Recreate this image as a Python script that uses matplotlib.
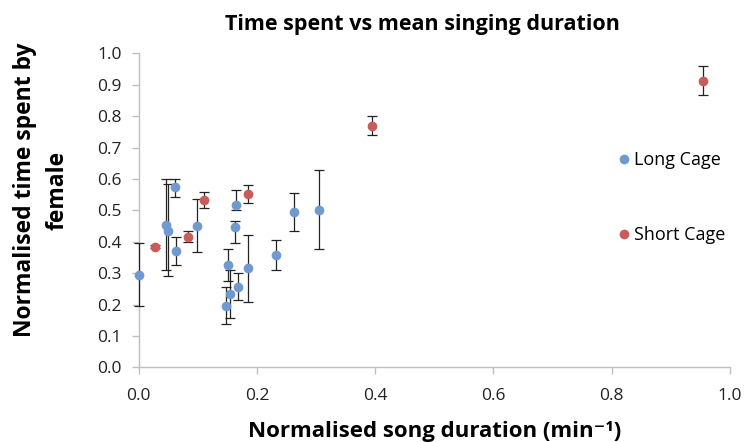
import numpy as np
import matplotlib
matplotlib.use('Agg')
import matplotlib.pyplot as plt
from matplotlib.lines import Line2D

# Long cage: song duration, time spent, error bar ends
long_x = [0.000, 0.047, 0.050, 0.062, 0.064, 0.099, 0.164, 0.163, 0.152, 0.155,
          0.147, 0.168, 0.185, 0.232, 0.262, 0.305]
long_y = [0.294, 0.455, 0.434, 0.573, 0.370, 0.451, 0.517, 0.448, 0.326, 0.232,
          0.196, 0.257, 0.315, 0.357, 0.494, 0.501]
long_hi = [0.397, 0.599, 0.584, 0.601, 0.416, 0.535, 0.566, 0.467, 0.378, 0.310,
           0.257, 0.301, 0.421, 0.405, 0.557, 0.628]
long_lo = [0.195, 0.310, 0.291, 0.543, 0.325, 0.369, 0.501, 0.395, 0.274, 0.157,
           0.137, 0.216, 0.207, 0.309, 0.434, 0.376]

# Short cage
short_x = [0.027, 0.084, 0.111, 0.185, 0.394, 0.955]
short_y = [0.384, 0.414, 0.533, 0.552, 0.769, 0.913]
short_hi = [0.389, 0.433, 0.559, 0.580, 0.801, 0.960]
short_lo = [0.380, 0.398, 0.508, 0.525, 0.739, 0.869]

blue = '#7099cf'
red = '#c95b59'
axis_grey = '#bfbfbf'

plt.rcParams['font.family'] = ['Open Sans', 'DejaVu Sans']


def main():
    fig = plt.figure(figsize=(7.45, 4.42), dpi=100)
    ax = fig.add_axes([0.186, 0.169, 0.794, 0.710])

    for xs, ys, hi, lo, col in [(long_x, long_y, long_hi, long_lo, blue),
                                (short_x, short_y, short_hi, short_lo, red)]:
        ys = np.array(ys)
        yerr = [ys - np.array(lo), np.array(hi) - ys]
        eb = ax.errorbar(xs, ys, yerr=yerr, fmt='none', ecolor='#222222',
                         elinewidth=0.9, capsize=3.5, capthick=0.9, zorder=2)
        for art in eb.lines[1] + eb.lines[2]:
            art.set_clip_on(False)
        ax.plot(xs, ys, 'o', color=col, markersize=7, markeredgewidth=0,
                zorder=3, clip_on=False)

    ax.set_xlim(0, 1.0)
    ax.set_ylim(0, 1.0)
    ax.set_xticks(np.arange(0, 1.01, 0.2))
    ax.set_yticks(np.arange(0, 1.01, 0.1))
    ax.xaxis.set_major_formatter(matplotlib.ticker.FormatStrFormatter('%.1f'))
    ax.yaxis.set_major_formatter(matplotlib.ticker.FormatStrFormatter('%.1f'))
    for s in ['top', 'right']:
        ax.spines[s].set_visible(False)
    for s in ['left', 'bottom']:
        ax.spines[s].set_color(axis_grey)
        ax.spines[s].set_linewidth(1.0)
        ax.spines[s].set_zorder(1)
    ax.tick_params(colors=axis_grey, labelcolor='#222222', labelsize=12.5,
                   length=5, width=1.0)
    ax.tick_params(axis='x', pad=10)
    ax.tick_params(axis='y', pad=7)

    ax.set_xlabel('Normalised song duration (min⁻¹)', fontsize=16,
                  fontweight='bold', labelpad=12)
    ax.set_ylabel('Normalised time spent by\nfemale', fontsize=16.5,
                  fontweight='bold', linespacing=1.45)
    ax.yaxis.set_label_coords(-0.117, 0.565)
    fig.text(0.567, 0.945, 'Time spent vs mean singing duration', ha='center',
             va='center', fontsize=15.5, fontweight='bold')

    handles = [Line2D([], [], marker='o', ls='', color=blue, markersize=7,
                      markeredgewidth=0),
               Line2D([], [], marker='o', ls='', color=red, markersize=7,
                      markeredgewidth=0)]
    fig.legend(handles, ['Long Cage', 'Short Cage'], loc='upper left',
               bbox_to_anchor=(0.804, 0.695), frameon=False, fontsize=13,
               handletextpad=0.05, labelspacing=3.15, handlelength=1.0)

    fig.savefig('out.png', dpi=100)


if __name__ == "__main__":
    main()
